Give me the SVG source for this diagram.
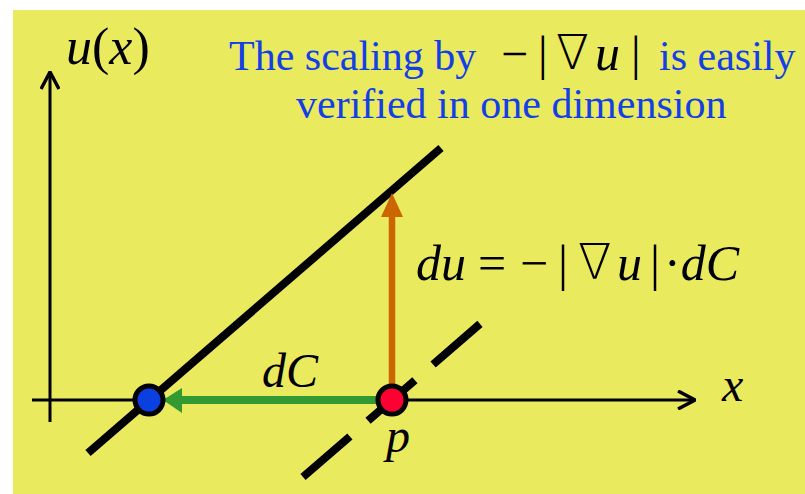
<svg xmlns="http://www.w3.org/2000/svg" width="805" height="494" viewBox="0 0 805 494">
<style>
.math{font-family:"Liberation Serif","Times New Roman",serif;font-style:italic;fill:#000}
.up{font-family:"Liberation Serif","Times New Roman",serif;font-style:normal;fill:#000}
.nabla{font-family:"DejaVu Sans","Liberation Serif",serif;font-weight:200;font-style:normal;fill:#000}
.blue{font-family:"Liberation Serif","Times New Roman",serif;fill:#1240E6;font-size:42px}
.axis{stroke:#000;stroke-width:3;fill:none}
</style>
<defs>
<marker id="chev" viewBox="0 0 20 20" refX="19" refY="10" markerWidth="20" markerHeight="20" markerUnits="userSpaceOnUse" orient="auto">
<path d="M2,1 L19,10 L2,19" fill="none" stroke="#000" stroke-width="3.5"/>
</marker>
</defs>
<rect x="13" y="10" width="792" height="484" fill="#EAEA5E"/>
<g id="axes">
<line class="axis" x1="50" y1="422" x2="50" y2="72" marker-end="url(#chev)"/>
<line class="axis" x1="32" y1="400" x2="695" y2="400" marker-end="url(#chev)"/>
</g>
<g id="lines">
<line x1="88" y1="453" x2="441" y2="148" stroke="#000" stroke-width="8"/>
<line x1="303" y1="477" x2="481" y2="323" stroke="#000" stroke-width="8" stroke-dasharray="62 24"/>
</g>
<g id="connectors">
<line x1="392" y1="390" x2="392" y2="214" stroke="#CC6600" stroke-width="6.5"/>
<polygon points="392,193 381,217 403,217" fill="#CC6600"/>
<line x1="378" y1="400" x2="178" y2="400" stroke="#339933" stroke-width="8"/>
<polygon points="163,400 182,388 182,413" fill="#339933"/>
</g>
<g id="node-blue">
<circle cx="149" cy="400" r="14" fill="#0A3FE0" stroke="#000" stroke-width="5"/>
</g>
<g id="node-red">
<circle cx="392" cy="400" r="14" fill="#FF0033" stroke="#000" stroke-width="5"/>
</g>
<g id="labels">
<text x="66" y="64" class="math" font-size="52">u<tspan class="up">(</tspan>x<tspan class="up">)</tspan></text>
<text x="229" y="70" class="blue">The scaling by</text>
<g class="up" font-size="48">
<text x="501" y="70">−</text>
<text x="538" y="70">|</text>
<text x="556" y="69" class="nabla" font-size="48">∇</text>
<text x="595" y="70" class="math" font-size="50">u</text>
<text x="631" y="70">|</text>
</g>
<text x="659" y="70" class="blue">is easily</text>
<text x="296" y="118" class="blue">verified in one dimension</text>
<g class="up" font-size="50">
<text x="416" y="280" class="math">du</text>
<text x="478" y="280">=</text>
<text x="520" y="280">−</text>
<text x="558" y="280">|</text>
<text x="578" y="279" class="nabla" font-size="49">∇</text>
<text x="617" y="280" class="math">u</text>
<text x="650" y="280">|</text>
<text x="664" y="280">·<tspan class="math">dC</tspan></text>
</g>
<text x="262" y="387" class="math" font-size="48">dC</text>
<text x="386" y="452" class="math" font-size="48">p</text>
<text x="722" y="401" class="math" font-size="48">x</text>
</g>
</svg>
